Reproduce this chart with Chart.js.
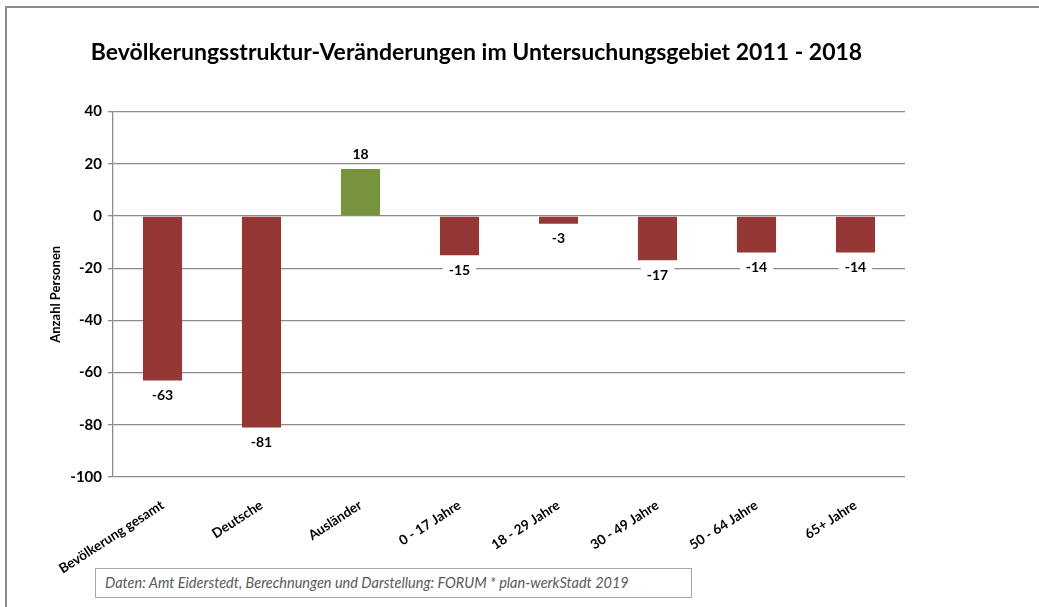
<!DOCTYPE html>
<html>
<head>
<meta charset="utf-8">
<script src="https://cdn.jsdelivr.net/npm/chart.js@4"></script>
<style>
  body { margin:0; background:#fff; }
  #wrap { position:relative; width:1039px; height:607px; overflow:hidden; }
  #frame { position:absolute; left:5px; top:6px; width:1100px; height:700px;
           border-left:2px solid #8c8c8c; border-top:2px solid #8c8c8c; }
  #src { position:absolute; left:95px; top:568px; width:597px; height:30px;
         border:1px solid #a6a6a6; font:italic 14.5px Lato, sans-serif; color:#595959;
         line-height:28px; padding-left:9px; box-sizing:border-box; background:#fff; }
  canvas { position:absolute; left:0; top:0; }
</style>
</head>
<body>
<div id="wrap">
  <div id="frame"></div>
  <canvas id="chart" width="1039" height="607"></canvas>
  <div id="src">Daten: Amt Eiderstedt, Berechnungen und Darstellung: FORUM * plan-werkStadt 2019</div>
</div>
<script>
const categories = ["Bevölkerung gesamt", "Deutsche", "Ausländer", "0 - 17 Jahre",
  "18 - 29 Jahre", "30 - 49 Jahre", "50 - 64 Jahre", "65+ Jahre"];
const changes = [-63, -81, 18, -15, -3, -17, -14, -14];
const yTicks = [40, 20, 0, -20, -40, -60, -80, -100];

const RED = "#953735";
const GREEN = "#77933C";
const FONT = "Lato, sans-serif";

// value labels with white box, above positive bars, below negative ones
const valueLabels = {
  id: "valueLabels",
  afterDatasetsDraw(chart) {
    const c = chart.ctx;
    const meta = chart.getDatasetMeta(0);
    c.save();
    c.font = "bold 14px " + FONT;
    c.textAlign = "center";
    c.textBaseline = "middle";
    meta.data.forEach((bar, i) => {
      const v = changes[i];
      const txt = String(v);
      const y = v < 0 ? bar.y + 15 : bar.y - 15;
      const w = c.measureText(txt).width + 12;
      c.fillStyle = "#fff";
      c.fillRect(bar.x - w / 2, y - 8, w, 16);
      c.fillStyle = "#000";
      c.fillText(txt, bar.x, y);
    });
    c.restore();
  }
};

new Chart(document.getElementById("chart"), {
  type: "bar",
  data: {
    labels: categories,
    datasets: [{
      data: changes,
      backgroundColor: ctx => ctx.raw < 0 ? RED : GREEN,
      categoryPercentage: 1,
      barPercentage: 0.395
    }]
  },
  options: {
    responsive: false,
    animation: false,
    layout: { padding: { left: 48, right: 134, top: 0, bottom: 0 } },
    plugins: {
      legend: { display: false },
      tooltip: { enabled: false },
      title: {
        display: true,
        text: "Bevölkerungsstruktur-Veränderungen im Untersuchungsgebiet 2011 - 2018",
        color: "#000",
        font: { family: FONT, size: 23, weight: "bold" },
        padding: { top: 39, bottom: 45 }
      }
    },
    scales: {
      x: {
        grid: { display: false },
        border: { display: false },
        afterFit: s => { s.height = 130; },
        ticks: {
          color: "#000",
          minRotation: 33,
          maxRotation: 33,
          padding: 12,
          font: { family: FONT, size: 13.5, weight: "bold" }
        }
      },
      y: {
        min: -100,
        max: 40,
        afterBuildTicks: s => { s.ticks = yTicks.map(v => ({ value: v })); },
        afterFit: s => { s.width = 65; },
        grid: { color: "#8c8c8c", lineWidth: 1.3, tickLength: 5 },
        border: { color: "#8c8c8c", width: 1.3 },
        ticks: {
          color: "#000",
          padding: 6,
          font: { family: FONT, size: 15, weight: "bold" }
        },
        title: {
          display: true,
          text: "Anzahl Personen",
          color: "#000",
          padding: 0,
          font: { family: FONT, size: 13, weight: "bold" }
        }
      }
    }
  },
  plugins: [valueLabels]
});
</script>
</body>
</html>
